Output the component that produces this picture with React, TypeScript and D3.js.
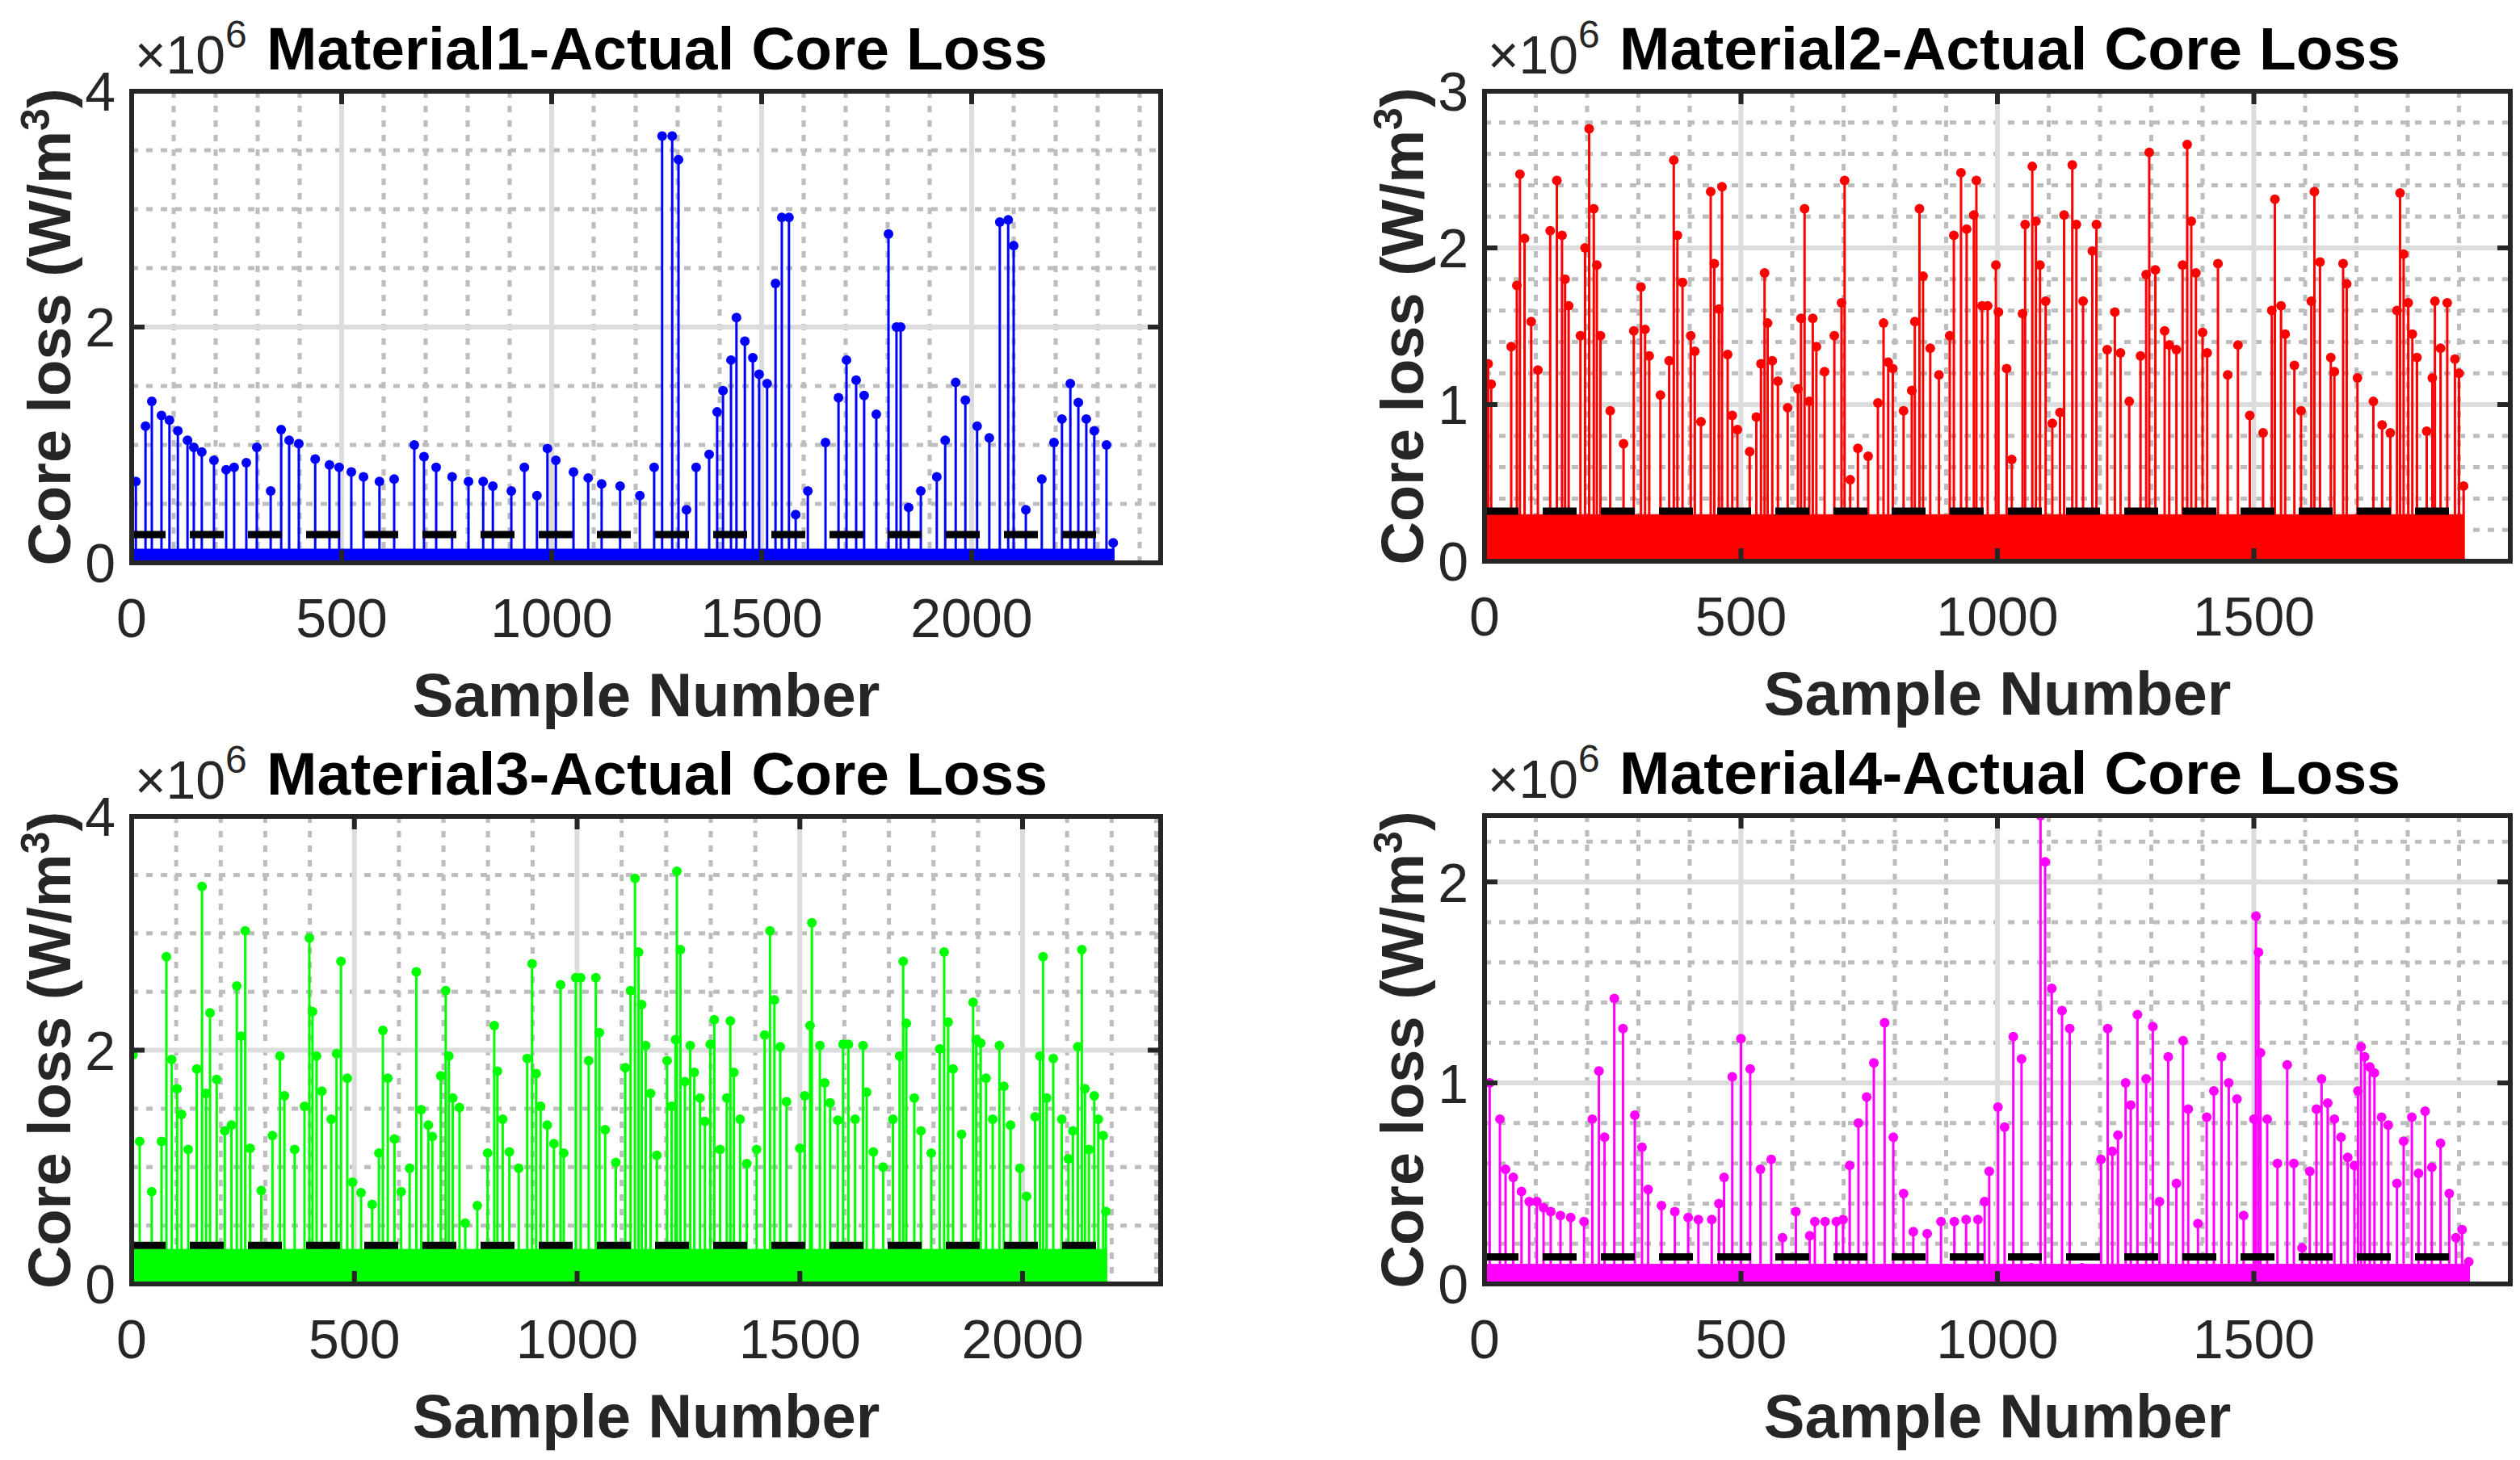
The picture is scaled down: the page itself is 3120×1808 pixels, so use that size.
import * as d3 from "d3";

// sample number, core loss (x10^6 W/m^3), peaks
const material1Peaks: [number, number][] = [
  [10, 0.69], [33, 1.16], [48, 1.37], [71, 1.25], [90, 1.21], [110, 1.12], [133, 1.04], [148, 0.98],
  [167, 0.94], [196, 0.87], [225, 0.79], [244, 0.81], [273, 0.85], [298, 0.98], [331, 0.61], [356, 1.13],
  [375, 1.04], [398, 1.01], [437, 0.88], [471, 0.83], [494, 0.81], [523, 0.77], [552, 0.73], [590, 0.69],
  [625, 0.71], [673, 1.0], [696, 0.9], [725, 0.81], [763, 0.73], [802, 0.69], [837, 0.69], [860, 0.65],
  [904, 0.61], [935, 0.81], [965, 0.57], [990, 0.97], [1010, 0.87], [1052, 0.77], [1087, 0.72], [1119, 0.67],
  [1163, 0.65], [1210, 0.57], [1244, 0.81], [1263, 3.62], [1287, 3.62], [1302, 3.42], [1321, 0.45], [1344, 0.81],
  [1375, 0.92], [1394, 1.28], [1408, 1.46], [1427, 1.72], [1440, 2.08], [1460, 1.88], [1479, 1.74], [1494, 1.6],
  [1513, 1.52], [1533, 2.37], [1548, 2.93], [1565, 2.93], [1581, 0.41], [1610, 0.61], [1652, 1.02], [1683, 1.4],
  [1702, 1.72], [1725, 1.55], [1744, 1.42], [1773, 1.26], [1802, 2.79], [1821, 2.0], [1831, 2.0], [1850, 0.47],
  [1879, 0.61], [1917, 0.73], [1937, 1.04], [1962, 1.53], [1985, 1.38], [2013, 1.16], [2042, 1.06], [2067, 2.89],
  [2087, 2.91], [2100, 2.69], [2129, 0.45], [2167, 0.71], [2196, 1.02], [2215, 1.22], [2235, 1.52], [2254, 1.36],
  [2273, 1.22], [2292, 1.12], [2321, 1.0], [2337, 0.17],
];

const material2Peaks: [number, number][] = [
  [7, 1.26], [13, 1.13], [52, 1.37], [63, 1.76], [69, 2.47], [78, 2.06], [91, 1.53], [104, 1.22], [128, 2.11],
  [141, 2.43], [151, 2.08], [157, 1.8], [164, 1.63], [187, 1.44], [196, 2.0], [204, 2.76], [213, 2.25], [219, 1.89],
  [226, 1.44], [245, 0.96], [271, 0.75], [291, 1.47], [305, 1.75], [313, 1.48], [321, 1.31], [343, 1.06], [360, 1.28],
  [369, 2.56], [376, 2.08], [386, 1.78], [402, 1.44], [410, 1.34], [422, 0.89], [441, 2.36], [448, 1.9], [457, 1.61],
  [463, 2.39], [474, 1.32], [483, 0.93], [493, 0.84], [517, 0.7], [530, 0.92], [539, 1.26], [546, 1.84], [552, 1.52],
  [561, 1.28], [572, 1.15], [591, 0.98], [611, 1.1], [617, 1.55], [624, 2.25], [633, 1.02], [640, 1.55], [647, 1.37],
  [663, 1.21], [682, 1.44], [696, 1.65], [702, 2.43], [713, 0.52], [728, 0.72], [748, 0.67], [767, 1.01], [778, 1.52],
  [787, 1.27], [796, 1.23], [817, 0.96], [833, 1.09], [839, 1.53], [848, 2.25], [855, 1.82], [869, 1.36], [886, 1.19],
  [907, 1.44], [915, 2.08], [929, 2.48], [940, 2.12], [954, 2.21], [959, 2.43], [970, 1.63], [981, 1.63], [997, 1.89],
  [1002, 1.59], [1018, 1.23], [1028, 0.65], [1049, 1.58], [1054, 2.15], [1068, 2.52], [1075, 2.17], [1083, 1.89],
  [1094, 1.66], [1107, 0.88], [1122, 0.95], [1130, 2.21], [1146, 2.53], [1154, 2.15], [1167, 1.66], [1185, 1.98],
  [1193, 2.15], [1214, 1.35], [1229, 1.59], [1240, 1.33], [1257, 1.02], [1279, 1.31], [1290, 1.83], [1296, 2.61],
  [1308, 1.86], [1326, 1.47], [1335, 1.38], [1349, 1.35], [1361, 1.89], [1370, 2.66], [1378, 2.17], [1387, 1.84],
  [1400, 1.46], [1409, 1.33], [1430, 1.9], [1449, 1.19], [1469, 1.38], [1492, 0.93], [1518, 0.82], [1535, 1.6],
  [1541, 2.31], [1553, 1.63], [1561, 1.45], [1579, 1.25], [1592, 0.96], [1612, 1.66], [1618, 2.36], [1629, 1.91],
  [1650, 1.3], [1657, 1.21], [1674, 1.9], [1681, 1.77], [1702, 1.17], [1733, 1.02], [1750, 0.87], [1766, 0.82],
  [1779, 1.6], [1785, 2.35], [1792, 1.96], [1801, 1.65], [1809, 1.45], [1818, 1.3], [1837, 0.83], [1848, 1.17],
  [1853, 1.66], [1864, 1.36], [1877, 1.65], [1892, 1.29], [1900, 1.2], [1909, 0.48],
];

const material3Peaks: [number, number][] = [
  [3, 1.96], [18, 1.22], [45, 0.79], [67, 1.22], [78, 2.8], [90, 1.92], [102, 1.67], [112, 1.45], [127, 1.15],
  [146, 1.84], [158, 3.4], [167, 1.63], [176, 2.32], [191, 1.75], [209, 1.31], [224, 1.36], [236, 2.55], [246, 2.12],
  [255, 3.02], [266, 1.16], [291, 0.8], [316, 1.27], [333, 1.95], [343, 1.61], [366, 1.15], [388, 1.52], [399, 2.96],
  [406, 2.33], [415, 1.95], [427, 1.65], [448, 1.41], [460, 1.97], [470, 2.76], [484, 1.76], [496, 0.87], [515, 0.78],
  [540, 0.68], [555, 1.12], [564, 2.17], [575, 1.76], [590, 1.24], [605, 0.79], [624, 0.99], [639, 2.67], [650, 1.49],
  [666, 1.36], [675, 1.26], [694, 1.78], [705, 2.51], [712, 1.95], [721, 1.59], [736, 1.51], [749, 0.52], [776, 0.67],
  [799, 1.12], [814, 2.21], [821, 1.82], [833, 1.41], [848, 1.13], [869, 0.99], [888, 1.93], [899, 2.74], [908, 1.8],
  [918, 1.52], [933, 1.36], [948, 1.2], [963, 2.56], [970, 1.12], [997, 2.62], [1008, 2.62], [1026, 1.91], [1042, 2.62],
  [1050, 2.15], [1063, 1.32], [1087, 1.04], [1108, 1.85], [1120, 2.51], [1130, 3.47], [1138, 2.84], [1145, 2.39],
  [1154, 2.04], [1165, 1.63], [1179, 1.1], [1202, 1.91], [1212, 1.52], [1221, 2.09], [1224, 3.53], [1232, 2.86],
  [1242, 1.73], [1254, 2.04], [1263, 1.81], [1276, 1.59], [1287, 1.39], [1299, 2.05], [1308, 2.26], [1321, 1.15],
  [1336, 1.59], [1344, 2.25], [1352, 1.81], [1366, 1.41], [1381, 1.03], [1403, 1.15], [1421, 2.13], [1433, 3.02],
  [1443, 2.43], [1456, 2.03], [1470, 1.56], [1500, 1.16], [1511, 1.61], [1523, 2.21], [1527, 3.09], [1545, 2.04],
  [1556, 1.72], [1568, 1.55], [1585, 1.4], [1597, 2.05], [1609, 2.05], [1624, 1.41], [1642, 2.04], [1650, 1.64],
  [1665, 1.13], [1687, 1.0], [1709, 1.41], [1724, 1.95], [1732, 2.76], [1739, 2.23], [1757, 1.59], [1772, 1.31],
  [1795, 1.12], [1814, 2.01], [1824, 2.84], [1833, 2.24], [1844, 1.84], [1863, 1.28], [1889, 2.41], [1896, 2.09],
  [1906, 2.06], [1918, 1.76], [1933, 1.41], [1948, 2.04], [1958, 1.69], [1973, 1.36], [1994, 0.99], [2009, 0.75],
  [2028, 1.43], [2039, 1.95], [2046, 2.8], [2054, 1.59], [2069, 1.93], [2088, 1.41], [2103, 1.07], [2113, 1.31],
  [2124, 2.03], [2133, 2.86], [2140, 1.67], [2149, 1.15], [2161, 1.61], [2170, 1.41], [2181, 1.27], [2187, 0.62],
];

const material4Peaks: [number, number][] = [
  [10, 1.0], [30, 0.82], [41, 0.57], [56, 0.53], [72, 0.46], [87, 0.41], [102, 0.41], [115, 0.38], [129, 0.36],
  [148, 0.34], [168, 0.33], [194, 0.31], [210, 0.82], [223, 1.06], [234, 0.73], [253, 1.42], [270, 1.27], [293, 0.84],
  [307, 0.68], [319, 0.47], [345, 0.39], [371, 0.36], [397, 0.33], [417, 0.32], [443, 0.32], [457, 0.4], [467, 0.53],
  [483, 1.03], [500, 1.22], [518, 1.07], [538, 0.57], [559, 0.62], [581, 0.23], [607, 0.36], [634, 0.24], [644, 0.31],
  [664, 0.31], [686, 0.31], [699, 0.32], [712, 0.59], [729, 0.8], [745, 0.93], [759, 1.1], [780, 1.3], [797, 0.73],
  [817, 0.45], [836, 0.26], [863, 0.25], [890, 0.31], [916, 0.31], [939, 0.32], [962, 0.32], [975, 0.41], [984, 0.56],
  [1001, 0.88], [1014, 0.78], [1031, 1.23], [1047, 1.12], [1066, 0.08], [1084, 2.33], [1093, 2.1], [1106, 1.47],
  [1126, 1.36], [1141, 1.27], [1165, 0.08], [1202, 0.62], [1215, 1.27], [1224, 0.66], [1235, 0.74], [1250, 1.0],
  [1260, 0.89], [1273, 1.34], [1290, 1.02], [1303, 1.28], [1316, 0.41], [1333, 1.13], [1349, 0.5], [1362, 1.21],
  [1372, 0.87], [1391, 0.3], [1408, 0.83], [1422, 0.96], [1437, 1.13], [1451, 1.0], [1467, 0.92], [1480, 0.34],
  [1500, 0.82], [1504, 1.83], [1509, 1.65], [1513, 1.15], [1526, 0.82], [1546, 0.6], [1565, 1.09], [1578, 0.6],
  [1594, 0.18], [1609, 0.56], [1622, 0.87], [1632, 1.02], [1644, 0.9], [1657, 0.82], [1670, 0.73], [1683, 0.63],
  [1696, 0.59], [1703, 0.96], [1709, 1.18], [1716, 1.13], [1726, 1.08], [1735, 1.05], [1749, 0.83], [1762, 0.79],
  [1779, 0.5], [1792, 0.71], [1808, 0.83], [1821, 0.55], [1834, 0.86], [1847, 0.58], [1864, 0.7], [1881, 0.45],
  [1894, 0.23], [1906, 0.27], [1919, 0.11],
];

const titles = [
  "Material1-Actual Core Loss",
  "Material2-Actual Core Loss",
  "Material3-Actual Core Loss",
  "Material4-Actual Core Loss",
];
const colors = ["#0000ff", "#ff0000", "#00ff00", "#ff00ff"];
const meanLoss = [0.24, 0.32, 0.33, 0.135];
const denseLevel = [0.12, 0.3, 0.3, 0.1];
const sampleCount = [2340, 1910, 2190, 1920];
const xMax = [2450, 2000, 2310, 2000];
const yMax = [4, 3, 4, 2.33];
const yTicks = [[0, 2, 4], [0, 1, 2, 3], [0, 2, 4], [0, 1, 2]];
const yMinorStep = [0.5, 0.2, 0.5, 0.2];
const xTicks = [
  [0, 500, 1000, 1500, 2000],
  [0, 500, 1000, 1500],
  [0, 500, 1000, 1500, 2000],
  [0, 500, 1000, 1500],
];
const peaks = [material1Peaks, material2Peaks, material3Peaks, material4Peaks];

const BOXES = [
  { x0: 163, x1: 1437, y0: 113, y1: 697 },
  { x0: 1838, x1: 3108, y0: 113, y1: 695 },
  { x0: 163, x1: 1437, y0: 1011, y1: 1590 },
  { x0: 1838, x1: 3108, y0: 1010, y1: 1590 },
];

const FONT = "'Liberation Sans', Arial, sans-serif";
const AX = "#262626";

const Panel = ({ i }: { i: number }) => {
  const b = BOXES[i];
  const x = d3.scaleLinear().domain([0, xMax[i]]).range([b.x0, b.x1]);
  const y = d3.scaleLinear().domain([0, yMax[i]]).range([b.y1, b.y0]);
  const xMinor = d3.range(100, xMax[i], 100).filter((v) => v % 500 !== 0);
  const yMinor = d3
    .range(yMinorStep[i], yMax[i], yMinorStep[i])
    .map((v) => +v.toFixed(3))
    .filter((v) => !yTicks[i].some((t) => Math.abs(t - v) < 1e-6));
  const clip = `clip${i}`;
  const col = colors[i];
  return (
    <g>
      <clipPath id={clip}>
        <rect x={b.x0} y={b.y0} width={b.x1 - b.x0} height={b.y1 - b.y0} />
      </clipPath>
      {/* grid */}
      {xMinor.map((v) => (
        <line key={"xm" + v} x1={x(v)} x2={x(v)} y1={b.y0} y2={b.y1} stroke="#bdbdbd" strokeWidth={5} strokeDasharray="8 10" />
      ))}
      {yMinor.map((v) => (
        <line key={"ym" + v} x1={b.x0} x2={b.x1} y1={y(v)} y2={y(v)} stroke="#bdbdbd" strokeWidth={5} strokeDasharray="8 10" />
      ))}
      {xTicks[i].slice(1).map((v) => (
        <line key={"xg" + v} x1={x(v)} x2={x(v)} y1={b.y0} y2={b.y1} stroke="#dcdcdc" strokeWidth={6} />
      ))}
      {yTicks[i].slice(1).map((v) => (
        <line key={"yg" + v} x1={b.x0} x2={b.x1} y1={y(v)} y2={y(v)} stroke="#dcdcdc" strokeWidth={6} />
      ))}
      {/* data */}
      <g clipPath={`url(#${clip})`}>
        <rect x={x(0)} y={y(denseLevel[i])} width={x(sampleCount[i]) - x(0)} height={y(0) - y(denseLevel[i])} fill={col} />
        {peaks[i].map(([s, v], k) => (
          <g key={k}>
            <line x1={x(s)} x2={x(s)} y1={y(0)} y2={y(v)} stroke={col} strokeWidth={3} />
            <circle cx={x(s)} cy={y(v)} r={6} fill={col} />
          </g>
        ))}
        <line x1={x(0)} x2={x(sampleCount[i])} y1={y(meanLoss[i])} y2={y(meanLoss[i])} stroke="#000" strokeWidth={9} strokeDasharray="42 30" />
      </g>
      {/* box and ticks */}
      <rect x={b.x0} y={b.y0} width={b.x1 - b.x0} height={b.y1 - b.y0} fill="none" stroke={AX} strokeWidth={6} />
      {xTicks[i].map((v) => (
        <g key={"xt" + v}>
          <line x1={x(v)} x2={x(v)} y1={b.y1} y2={b.y1 - 16} stroke={AX} strokeWidth={6} />
          <line x1={x(v)} x2={x(v)} y1={b.y0} y2={b.y0 + 16} stroke={AX} strokeWidth={6} />
          <text x={x(v)} y={b.y1 + 92} textAnchor="middle" fontSize={68} fill={AX} fontFamily={FONT}>{v}</text>
        </g>
      ))}
      {yTicks[i].map((v) => (
        <g key={"yt" + v}>
          <line x1={b.x0} x2={b.x0 + 16} y1={y(v)} y2={y(v)} stroke={AX} strokeWidth={6} />
          <line x1={b.x1} x2={b.x1 - 16} y1={y(v)} y2={y(v)} stroke={AX} strokeWidth={6} />
          <text x={b.x0 - 20} y={y(v)} dy="0.36em" textAnchor="end" fontSize={68} fill={AX} fontFamily={FONT}>{v}</text>
        </g>
      ))}
      {/* labels */}
      <text x={b.x0 + 4} y={b.y0 - 22} fontSize={66} fill={AX} fontFamily={FONT}>
        {"\u00d710"}
        <tspan fontSize={48} dy={-32}>6</tspan>
      </text>
      <text x={b.x0 + 167} y={b.y0 - 27} fontSize={75} fontWeight="bold" fill="#000" fontFamily={FONT}>{titles[i]}</text>
      <text x={(b.x0 + b.x1) / 2} y={b.y1 + 190} textAnchor="middle" fontSize={76} fontWeight="bold" fill={AX} fontFamily={FONT}>Sample Number</text>
      <text
        transform={`translate(${b.x0 - 76},${(b.y0 + b.y1) / 2}) rotate(-90)`}
        textAnchor="middle"
        fontSize={74}
        fontWeight="bold"
        fill={AX}
        fontFamily={FONT}
      >
        Core loss (W/m<tspan fontSize={50} dy={-26}>3</tspan><tspan dy={26}>)</tspan>
      </text>
    </g>
  );
};

export default function App() {
  return (
    <svg width={3120} height={1808} style={{ position: "absolute", left: 0, top: 0, background: "#fff" }}>
      <rect width={3120} height={1808} fill="#fff" />
      {[0, 1, 2, 3].map((i) => (
        <Panel key={i} i={i} />
      ))}
    </svg>
  );
}
